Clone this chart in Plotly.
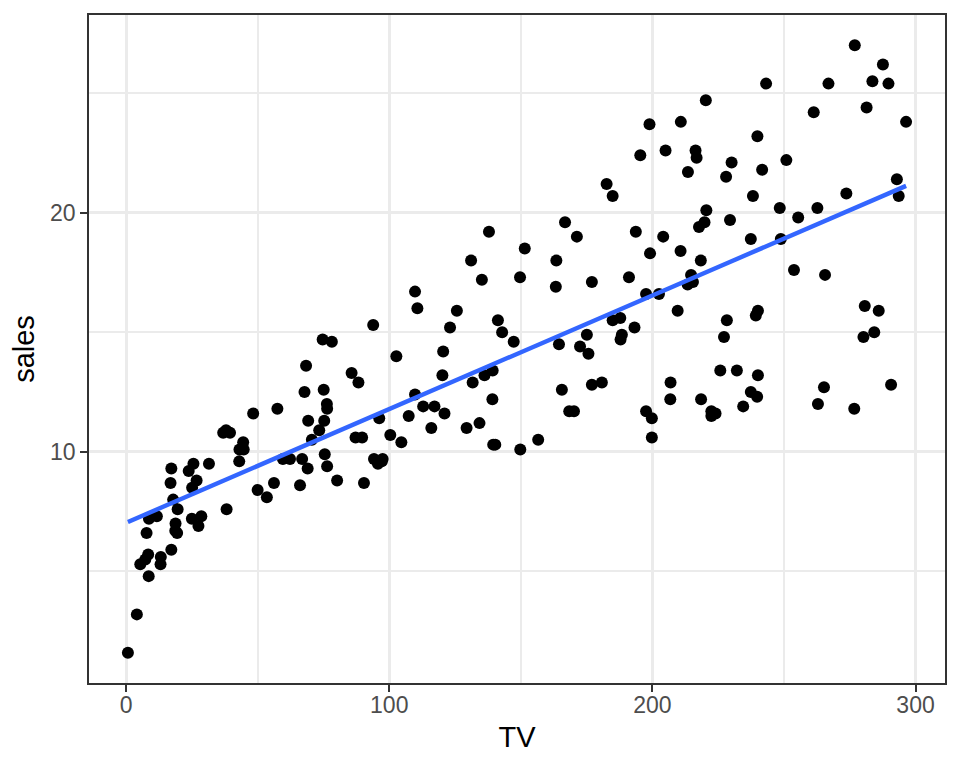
import numpy as np
import plotly.graph_objects as go

tv = [230.1, 44.5, 17.2, 151.5, 180.8, 8.7, 57.5, 120.2, 8.6, 199.8,
      66.1, 214.7, 23.8, 97.5, 204.1, 195.4, 67.8, 281.4, 69.2, 147.3,
      218.4, 237.4, 13.2, 228.3, 62.3, 262.9, 142.9, 240.1, 248.8, 70.6,
      292.9, 112.9, 97.2, 265.6, 95.7, 290.7, 266.9, 74.7, 43.1, 228.0,
      202.5, 177.0, 293.6, 206.9, 25.1, 175.1, 89.7, 239.9, 227.2, 66.9,
      199.8, 100.4, 216.4, 182.6, 262.7, 198.9, 7.3, 136.2, 210.8, 210.7,
      53.5, 261.3, 239.3, 102.7, 131.1, 69.0, 31.5, 139.3, 237.4, 216.8,
      199.1, 109.8, 26.8, 129.4, 213.4, 16.9, 27.5, 120.5, 5.4, 116.0,
      76.4, 239.8, 75.3, 68.4, 213.5, 193.2, 76.3, 110.7, 88.3, 109.8,
      134.3, 28.6, 217.7, 250.9, 107.4, 163.3, 197.6, 184.9, 289.7, 135.2,
      222.4, 296.4, 280.2, 187.9, 238.2, 137.9, 25.0, 90.4, 13.1, 255.4,
      225.8, 241.7, 175.7, 209.6, 78.2, 75.1, 139.2, 76.4, 125.7, 19.4,
      141.3, 18.8, 224.0, 123.1, 229.5, 87.2, 7.8, 80.2, 220.3, 59.6,
      0.7, 265.2, 8.4, 219.8, 36.9, 48.3, 25.6, 273.7, 43.0, 184.9,
      73.4, 193.7, 220.5, 104.6, 96.2, 140.3, 240.1, 243.2, 38.0, 44.7,
      280.7, 121.0, 197.6, 171.3, 187.8, 4.1, 93.9, 149.8, 11.7, 131.7,
      172.5, 85.7, 188.4, 163.5, 117.2, 234.5, 17.9, 206.8, 215.4, 284.3,
      50.0, 164.5, 19.6, 168.4, 222.4, 276.9, 248.4, 170.2, 276.7, 165.6,
      156.6, 218.5, 56.2, 287.6, 253.8, 205.0, 139.5, 191.1, 286.0, 18.7,
      39.5, 75.5, 17.2, 166.8, 149.7, 38.2, 94.2, 177.0, 283.6, 232.1]

sales = [22.1, 10.4, 9.3, 18.5, 12.9, 7.2, 11.8, 13.2, 4.8, 10.6,
         8.6, 17.4, 9.2, 9.7, 19.0, 22.4, 12.5, 24.4, 11.3, 14.6,
         18.0, 12.5, 5.6, 15.5, 9.7, 12.0, 15.0, 15.9, 18.9, 10.5,
         21.4, 11.9, 9.6, 17.4, 9.5, 12.8, 25.4, 14.7, 10.1, 21.5,
         16.6, 17.1, 20.7, 12.9, 8.5, 14.9, 10.6, 23.2, 14.8, 9.7,
         11.4, 10.7, 22.6, 21.2, 20.2, 23.7, 5.5, 13.2, 23.8, 18.4,
         8.1, 24.2, 15.7, 14.0, 18.0, 9.3, 9.5, 13.4, 18.9, 22.3,
         18.3, 12.4, 8.8, 11.0, 17.0, 8.7, 6.9, 14.2, 5.3, 11.0,
         11.8, 12.3, 11.3, 13.6, 21.7, 15.2, 12.0, 16.0, 12.9, 16.7,
         11.2, 7.3, 19.4, 22.2, 11.5, 16.9, 11.7, 15.5, 25.4, 17.2,
         11.7, 23.8, 14.8, 14.7, 20.7, 19.2, 7.2, 8.7, 5.3, 19.8,
         13.4, 21.8, 14.1, 15.9, 14.6, 12.6, 12.2, 9.4, 15.9, 6.6,
         15.5, 7.0, 11.6, 15.2, 19.7, 10.6, 6.6, 8.8, 24.7, 9.7,
         1.6, 12.7, 5.7, 19.6, 10.8, 11.6, 9.5, 20.8, 9.6, 20.7,
         10.9, 19.2, 20.1, 10.4, 11.4, 10.3, 13.2, 25.4, 10.9, 10.1,
         16.1, 11.6, 16.6, 19.0, 15.6, 3.2, 15.3, 10.1, 7.3, 12.9,
         14.4, 13.3, 14.9, 18.0, 11.9, 11.9, 8.0, 12.2, 17.1, 15.0,
         8.4, 14.5, 7.6, 11.7, 11.5, 27.0, 20.2, 11.7, 11.8, 12.6,
         10.5, 12.2, 8.7, 26.2, 17.6, 22.6, 10.3, 17.3, 15.9, 6.7,
         10.8, 9.9, 5.9, 19.6, 17.3, 7.6, 9.7, 12.8, 25.5, 13.4]

x_ticks = [0, 100, 200, 300]
x_minor = [50, 150, 250]
y_ticks = [10, 20]
y_minor = [5, 15, 25]

x = np.array(tv)
y = np.array(sales)
slope, intercept = np.polyfit(x, y, 1)
xl = np.linspace(x.min(), x.max(), 80)
yl = intercept + slope * xl

def expand(a):
    lo, hi = min(a), max(a)
    d = (hi - lo) * 0.05
    return [lo - d, hi + d]

fig = go.Figure()
fig.add_trace(go.Scatter(x=tv, y=sales, mode="markers",
                         marker=dict(color="black", size=12, line=dict(width=0)),
                         showlegend=False, hoverinfo="skip"))
fig.add_trace(go.Scatter(x=xl, y=yl, mode="lines",
                         line=dict(color="#3366FF", width=4.4),
                         showlegend=False, hoverinfo="skip"))

axis_common = dict(
    showline=True, mirror=True, linecolor="#333333", linewidth=1.6,
    showgrid=True, gridcolor="#EBEBEB", gridwidth=2.6,
    zeroline=False, automargin=False,
    ticks="outside", ticklen=7, tickwidth=2.2, tickcolor="#333333",
    tickfont=dict(family="Liberation Sans", size=23, color="#4D4D4D"),
)

fig.update_layout(
    template="none",
    width=952, height=760,
    margin=dict(l=81, r=15, t=7, b=85),
    paper_bgcolor="white", plot_bgcolor="white",
    font=dict(family="Liberation Sans"),
    xaxis=dict(range=expand(tv), tickvals=x_ticks,
               ticktext=[str(v) for v in x_ticks],
               ticklabelstandoff=-6,
               minor=dict(tickvals=x_minor, showgrid=True,
                          gridcolor="#EBEBEB", gridwidth=1.5, ticks=""),
               title=dict(text="TV", font=dict(size=29, color="black"), standoff=9),
               **axis_common),
    yaxis=dict(range=expand(sales), tickvals=y_ticks,
               ticktext=[str(v) for v in y_ticks],
               minor=dict(tickvals=y_minor, showgrid=True,
                          gridcolor="#EBEBEB", gridwidth=1.5, ticks=""),
               title=dict(text="sales", font=dict(size=29, color="black"), standoff=10),
               **axis_common),
)

fig.write_html("out.html")
